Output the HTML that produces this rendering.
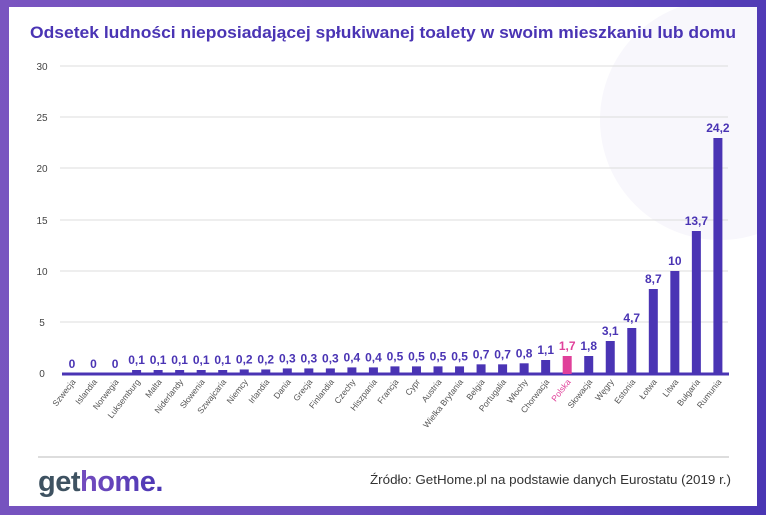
<!DOCTYPE html>
<html><head><meta charset="utf-8"><style>
html,body{margin:0;padding:0;width:766px;height:515px;overflow:hidden}
body{background:linear-gradient(100deg,#7a55c0 0%,#6a4cbc 50%,#4a36b4 100%);position:relative;font-family:"Liberation Sans",sans-serif}
.card{position:absolute;left:9px;top:7px;width:748px;height:499px;background:#fff;overflow:hidden}
svg{position:absolute;left:0;top:0}
</style></head><body>
<div class="card">
<svg width="748" height="499" viewBox="9 7 748 499" xmlns="http://www.w3.org/2000/svg">
<defs>
<linearGradient id="hg" x1="0" x2="1"><stop offset="0" stop-color="#8a58c4"/><stop offset="1" stop-color="#4a36b4"/></linearGradient></defs>
<circle cx="720" cy="120" r="120" fill="#f8f7fc"/>
<text x="30" y="38" textLength="706" lengthAdjust="spacingAndGlyphs" font-size="17" font-weight="bold" fill="#4a34b4">Odsetek ludności nieposiadającej spłukiwanej toalety w swoim mieszkaniu lub domu</text>
<g stroke="#dcdcdc" stroke-width="1">
<line x1="60" x2="728" y1="66" y2="66"/><line x1="60" x2="728" y1="117" y2="117"/><line x1="60" x2="728" y1="168" y2="168"/><line x1="60" x2="728" y1="220" y2="220"/><line x1="60" x2="728" y1="271" y2="271"/><line x1="60" x2="728" y1="322" y2="322"/></g>
<g font-size="10" fill="#444" text-anchor="middle">
<text x="42" y="70">30</text><text x="42" y="121">25</text><text x="42" y="172">20</text><text x="42" y="224">15</text><text x="42" y="275">10</text><text x="42" y="326">5</text><text x="42" y="377">0</text></g>
<line x1="62" x2="729" y1="374" y2="374" stroke="#4a34b4" stroke-width="3"/>
<g id="bars" fill="#4a34b4"></g>
<line x1="38" x2="729" y1="457" y2="457" stroke="#bbb" stroke-width="1"/>
<text x="38" y="491" font-size="29" font-weight="bold" letter-spacing="-0.5"><tspan fill="#3e5261">get</tspan><tspan fill="url(#hg)">home.</tspan></text>
<text x="370" y="484" textLength="361" lengthAdjust="spacingAndGlyphs" font-size="12.5" fill="#333">Źródło: GetHome.pl na podstawie danych Eurostatu (2019 r.)</text>
</svg>
<script>
var d=[["Szwecja",0],["Islandia",0],["Norwegia",0],["Luksemburg",0.1],["Malta",0.1],["Niderlandy",0.1],["Słowenia",0.1],["Szwajcaria",0.1],["Niemcy",0.2],["Irlandia",0.2],["Dania",0.3],["Grecja",0.3],["Finlandia",0.3],["Czechy",0.4],["Hiszpania",0.4],["Francja",0.5],["Cypr",0.5],["Austria",0.5],["Wielka Brytania",0.5],["Belgia",0.7],["Portugalia",0.7],["Włochy",0.8],["Chorwacja",1.1],["Polska",1.7],["Słowacja",1.8],["Węgry",3.1],["Estonia",4.7],["Łotwa",8.7],["Litwa",10],["Bułgaria",13.7],["Rumunia",24.2]];
var tops={22:360,23:356,24:356,25:341,26:328,27:289,28:271,29:231,30:138};
var s="";
d.forEach(function(r,i){var cx=72+i*21.53;var v=r[1];var top=tops[i]!==undefined?tops[i]:(v==0?374:373-Math.max(3,v*10.24+1.5));
var c=(i==23)?"#e0409a":"#4a34b4";
if(v>0)s+='<rect x="'+(cx-4.5)+'" y="'+top+'" width="9" height="'+(374-top)+'" fill="'+c+'"/>';
s+='<text x="'+cx+'" y="'+(top-6)+'" text-anchor="middle" font-size="12" font-weight="bold" fill="'+c+'">'+String(v).replace(".",",")+'</text>';
s+='<text transform="translate('+(cx+4)+',382) rotate(-52)" text-anchor="end" font-size="8.5" fill="'+(i==23?"#e0409a":"#555")+'">'+r[0]+'</text>';});
document.getElementById("bars").innerHTML=s;
</script>
</div>
</body></html>
